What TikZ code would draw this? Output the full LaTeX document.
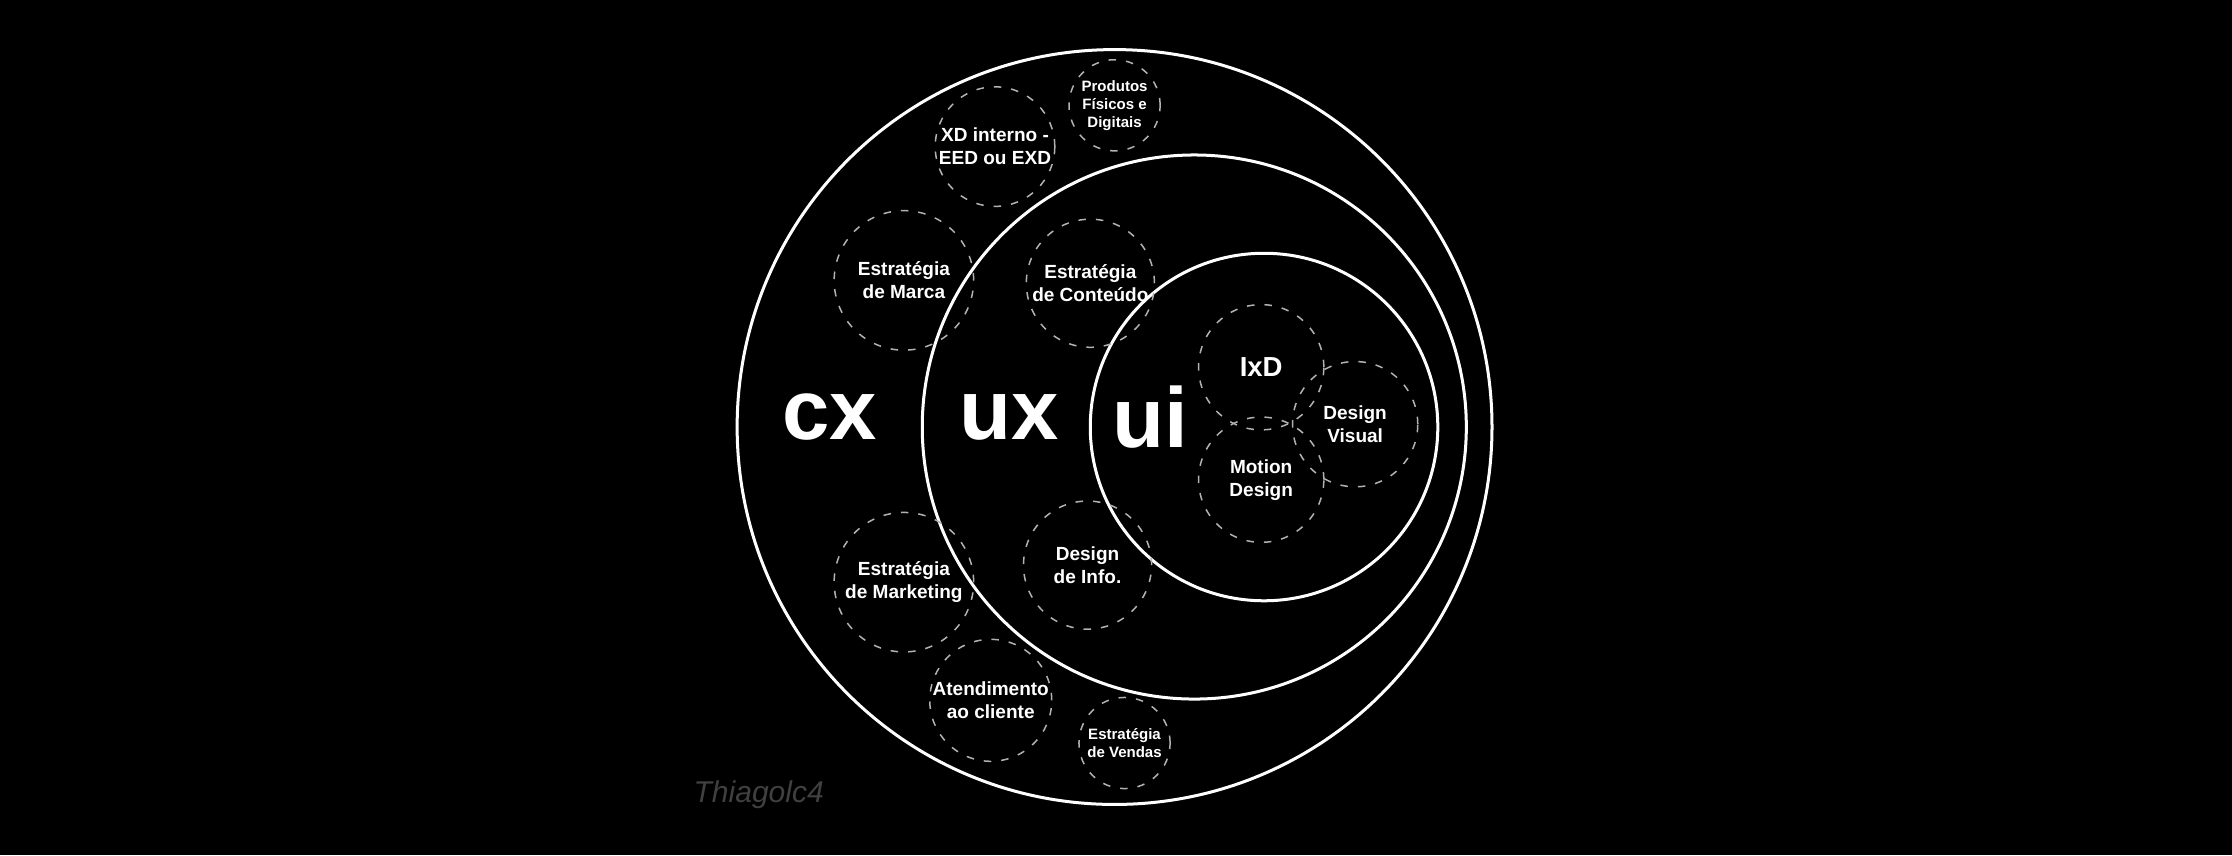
\documentclass[tikz,border=0pt]{standalone}
\usepackage{fontspec}
\setmainfont{Liberation Sans}
\begin{document}
\tikzset{
  every ring/.style={draw=white, line width=0.6pt, circle, inner sep=0pt},
  every topic/.style={draw=white!70!black, dash pattern=on 1.5pt off 2pt, line width=0.3pt,
    circle, inner sep=0pt, text=white, align=center, font=\bfseries\fontsize{3.8}{4.6}\selectfont},
  small topic/.style={font=\bfseries\fontsize{3}{3.6}\selectfont},
  big label/.style={text=white, font=\bfseries\fontsize{17}{20}\selectfont}
}
\begin{tikzpicture}[x=0.01cm, y=-0.01cm]
\fill[black] (0,0) rectangle (1568,601);
\useasboundingbox (0,0) rectangle (1568,601);

% rings
\node [every ring, minimum size=5.3cm] (cx) at (783,300) {};
\node [every ring, minimum size=3.82cm] (ux) at (839,300) {};
\node [every ring, minimum size=2.44cm] (ui) at (888,300) {};

\node [big label] (cx-l) at (583,293) {cx};
\node [big label] (ux-l) at (709,293) {ux};
\node [big label] (ui-l) at (808,293) {ui};

% topics
\foreach \n/\x/\y/\r/\t in {
  xd/699/103/84/{XD interno -\\EED ou EXD},
  marca/635/197/98/{Estratégia\\de Marca},
  conteudo/766/199/90/{Estratégia\\de Conteúdo},
  ixd/886/258/88/{\fontsize{5.5}{6.5}\selectfont IxD},
  visual/952/298/88/{Design\\Visual},
  motion/886/337/88/{Motion\\Design},
  info/764/397/90/{Design\\de Info.},
  marketing/635/409/98/{Estratégia\\de Marketing},
  atendimento/696/492/84/{Atendimento\\ao cliente}}
  \node [every topic, minimum size=\r*0.01cm] (\n) at (\x,\y) {\t};

\foreach \n/\x/\y/\t in {
  produtos/783/74/{Produtos\\Físicos e\\Digitais},
  vendas/790/522/{Estratégia\\de Vendas}}
  \node [every topic, small topic, minimum size=0.64cm] (\n) at (\x,\y) {\t};

\node [text=white!25!black, font=\itshape\fontsize{6}{7}\selectfont] (sign) at (533,558) {Thiagolc4};
\end{tikzpicture}
\end{document}
